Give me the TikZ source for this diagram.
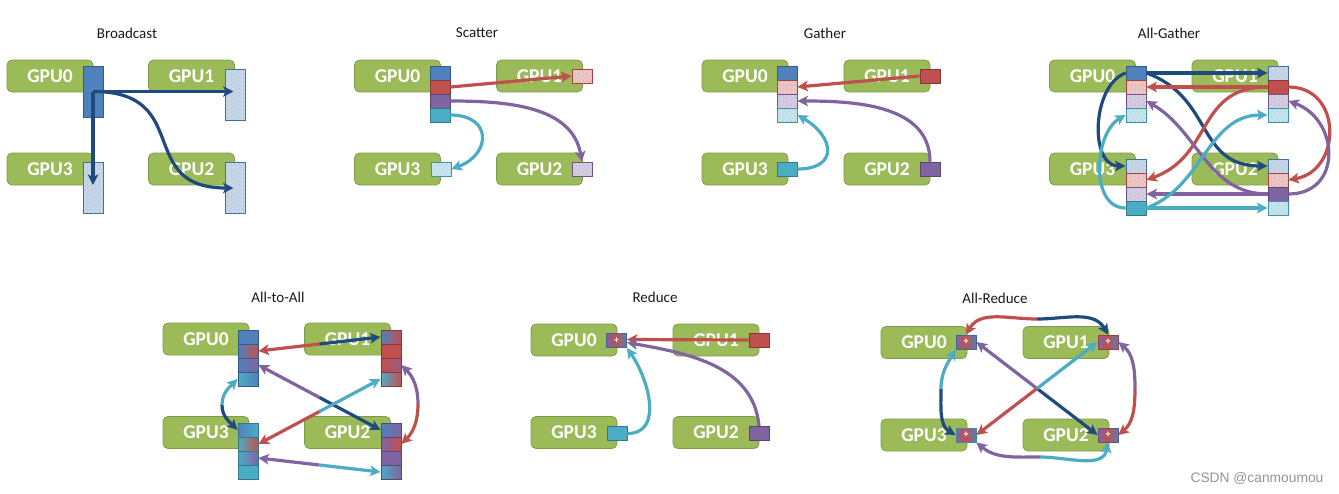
\documentclass[tikz,border=0pt]{standalone}
\usepackage{fontspec}
\setmainfont{Carlito}
\newfontfamily\wmfont{Liberation Sans}
\usetikzlibrary{arrows.meta,patterns.meta,calc}

\definecolor{gpugreen}{HTML}{9BBB59}
\definecolor{gpuedge}{HTML}{7E9C45}
\definecolor{cblue}{HTML}{4F81BD}
\definecolor{cred}{HTML}{C0504D}
\definecolor{cpurple}{HTML}{8064A2}
\definecolor{ccyan}{HTML}{4BACC6}
\definecolor{cnavy}{HTML}{1F4A7E}
\definecolor{lblue}{HTML}{B9CDE5}
\definecolor{lred}{HTML}{E6B9B8}
\definecolor{lpurple}{HTML}{CCC1DA}
\definecolor{lcyan}{HTML}{B7DEE8}

\tikzdeclarepattern{
	name=checks,
	type=uncolored,
	bottom left={(0pt,0pt)},
	top right={(4pt,4pt)},
	tile size={(4pt,4pt)},
	code={
		\fill (0pt,0pt) rectangle (2pt,2pt);
		\fill (2pt,2pt) rectangle (4pt,4pt);
	}
}

\tikzset{
	gpu/.style={draw=gpuedge, fill=gpugreen, line width=0.8pt, rounded corners=5pt, minimum width=86pt, minimum height=32pt, inner sep=0pt, text=white, font=\fontsize{19.5}{19.5}\selectfont\bfseries},
	title/.style={font=\fontsize{15}{15}\selectfont, text=black!90},
	cell/.style={draw=#1!70!black, fill=#1, line width=0.8pt, minimum width=20pt, minimum height=14pt, inner sep=0pt},
	lcell/.style 2 args={cell=#2, fill=#1, postaction={fill opacity=.4, pattern=checks, pattern color=white}, postaction={draw=#2!85!black, line width=0.8pt}},
	mixcell/.style n args={3}{cell=#1, left color=#2, right color=#3},
	tall/.style={minimum height=51pt},
	plusbox/.style={draw=#1!80!black, line width=0.8pt, left color=cpurple, right color=cblue, middle color=cred, minimum width=20pt, minimum height=14pt, inner sep=0pt, text=white, font=\fontsize{10}{10}\selectfont\bfseries},
	arr/.style={draw=#1, line width=3.2pt, -{Stealth[length=10.5pt,width=10.5pt,inset=2.5pt]}},
	wm/.style={font=\wmfont\fontsize{13.8}{13.8}\selectfont, text=black!42}
}

\begin{document}
\begin{tikzpicture}[x=1pt,y=-1pt]

	\path[use as bounding box, fill=white] (0,0) rectangle (1339,493);

	\node[title] (tbc) at (127,33) {Broadcast};
	\node[title] (tsc) at (477,33) {Scatter};
	\node[title] (tga) at (825,33) {Gather};
	\node[title] (tag) at (1169,33) {All-Gather};
	\node[title] (taa) at (278,297) {All-to-All};
	\node[title] (trd) at (655,297) {Reduce};
	\node[title] (tar) at (995,298) {All-Reduce};

	\node[gpu] (bcg0) at (50,76) {GPU0};
	\node[gpu] (bcg1) at (191.5,76) {GPU1};
	\node[gpu] (bcg3) at (50,169) {GPU3};
	\node[gpu] (bcg2) at (191.5,169) {GPU2};
	\node[cell=cblue, tall] (bcb0) at (93,91.5) {};
	\node[lcell={lblue}{cblue}, tall] (bcb1) at (235.5,94.5) {};
	\node[lcell={lblue}{cblue}, tall] (bcb3) at (93,188) {};
	\node[lcell={lblue}{cblue}, tall] (bcb2) at (235.5,188) {};
	\draw[arr=cnavy, shorten >=2pt] (bcb0.center) -- (bcb0.center -| bcb1.center);
	\draw[arr=cnavy, shorten >=3pt] (bcb0.center) -- (bcb0.center |- bcb3.center);
	\draw[arr=cnavy, shorten >=2pt] (bcb0.center) to[out=0,in=180,looseness=1.5] (bcb2.center);

	\node[gpu] (scg0) at (397.5,76) {GPU0};
	\node[gpu] (scg1) at (539.5,76) {GPU1};
	\node[gpu] (scg3) at (397.5,169) {GPU3};
	\node[gpu] (scg2) at (539.5,169) {GPU2};
	\node[cell=cblue] (scc0) at (440,73) {};
	\node[cell=cred] (scc1) at (440,87) {};
	\node[cell=cpurple] (scc2) at (440,101) {};
	\node[cell=ccyan] (scc3) at (440,115) {};
	\node[lcell={lred}{cred}] (scr1) at (582,76) {};
	\node[lcell={lcyan}{ccyan}] (scr3) at (441,169) {};
	\node[lcell={lpurple}{cpurple}] (scr2) at (582,169) {};
	\draw[arr=cred] (scc1.east) -- (scr1.west);
	\draw[arr=cpurple] (scc2.east) to[out=0,in=100] (scr2.north);
	\draw[arr=ccyan] (scc3.east) to[out=0,in=20,looseness=2] (scr3.east);

	\node[gpu] (gag0) at (745,76) {GPU0};
	\node[gpu] (gag1) at (887,76) {GPU1};
	\node[gpu] (gag3) at (745,169) {GPU3};
	\node[gpu] (gag2) at (887,169) {GPU2};
	\node[cell=cblue] (gac0) at (787,73) {};
	\node[lcell={lred}{cred}] (gac1) at (787,87) {};
	\node[lcell={lpurple}{cpurple}] (gac2) at (787,101) {};
	\node[lcell={lcyan}{ccyan}] (gac3) at (787,115) {};
	\node[cell=cred] (gas1) at (930,76) {};
	\node[cell=ccyan] (gas3) at (787,169) {};
	\node[cell=cpurple] (gas2) at (930,169) {};
	\draw[arr=cred] (gas1.west) -- (gac1.east);
	\draw[arr=cpurple] (gas2.north) to[out=90,in=0] (gac2.east);
	\draw[arr=ccyan] (gas3.east) to[out=0,in=-30,looseness=2] (gac3.east);

	\node[gpu] (agg0) at (1092.5,76) {GPU0};
	\node[gpu] (agg1) at (1235,76) {GPU1};
	\node[gpu] (agg3) at (1092.5,169) {GPU3};
	\node[gpu] (agg2) at (1235,169) {GPU2};
	\node[cell=cblue] (agc00) at (1136,73) {};
	\node[lcell={lred}{cred}] (agc01) at (1136,87) {};
	\node[lcell={lpurple}{cpurple}] (agc02) at (1136,101) {};
	\node[lcell={lcyan}{ccyan}] (agc03) at (1136,115) {};
	\node[lcell={lblue}{cblue}] (agc10) at (1278,73) {};
	\node[cell=cred] (agc11) at (1278,87) {};
	\node[lcell={lpurple}{cpurple}] (agc12) at (1278,101) {};
	\node[lcell={lcyan}{ccyan}] (agc13) at (1278,115) {};
	\node[lcell={lblue}{cblue}] (agc30) at (1136,166) {};
	\node[lcell={lred}{cred}] (agc31) at (1136,180) {};
	\node[lcell={lpurple}{cpurple}] (agc32) at (1136,194) {};
	\node[cell=ccyan] (agc33) at (1136,208) {};
	\node[lcell={lblue}{cblue}] (agc20) at (1278,166) {};
	\node[lcell={lred}{cred}] (agc21) at (1278,180) {};
	\node[cell=cpurple] (agc22) at (1278,194) {};
	\node[lcell={lcyan}{ccyan}] (agc23) at (1278,208) {};
	\draw[arr=cnavy] (agc00.east) -- (agc10.west);
	\draw[arr=cnavy] (agc00.west) to[out=200,in=180] (agc30.west);
	\draw[arr=cnavy] (agc00.east) to[out=-20,in=180,looseness=1.2] (agc20.west);
	\draw[arr=cred] (agc11.west) -- (agc01.east);
	\draw[arr=cred] (agc11.west) to[out=180,in=20,looseness=1.2] (agc31.east);
	\draw[arr=cred] (agc11.east) to[out=0,in=10,looseness=1.5] (agc21.east);
	\draw[arr=cpurple] (agc22.west) -- (agc32.east);
	\draw[arr=cpurple] (agc22.east) to[out=0,in=-20,looseness=1.5] (agc12.east);
	\draw[arr=cpurple] (agc22.west) to[out=180,in=-30] (agc02.east);
	\draw[arr=ccyan] (agc33.east) -- (agc23.west);
	\draw[arr=ccyan] (agc33.west) to[out=180,in=210] (agc03.west);
	\draw[arr=ccyan] (agc33.east) to[out=20,in=180] (agc13.west);

	\node[gpu] (aag0) at (206,339) {GPU0};
	\node[gpu] (aag1) at (347.5,339) {GPU1};
	\node[gpu] (aag3) at (206,432.5) {GPU3};
	\node[gpu] (aag2) at (347.5,432.5) {GPU2};
	\node[cell=cblue] (aac00) at (248,337) {};
	\node[mixcell={cblue}{cblue}{cred}] (aac01) at (248,351) {};
	\node[mixcell={cblue}{cblue}{cpurple}] (aac02) at (248,365) {};
	\node[mixcell={cblue}{ccyan}{cblue}] (aac03) at (248,379) {};
	\node[mixcell={cred}{cblue}{cred}] (aac10) at (391,337) {};
	\node[cell=cred] (aac11) at (391,351) {};
	\node[mixcell={cred}{cred}{cpurple!60!cred}] (aac12) at (391,365) {};
	\node[mixcell={cred}{ccyan}{cred}] (aac13) at (391,379) {};
	\node[mixcell={ccyan}{cblue}{ccyan}] (aac30) at (248,430) {};
	\node[mixcell={ccyan}{ccyan}{cred}] (aac31) at (248,444) {};
	\node[mixcell={ccyan}{ccyan}{cpurple}] (aac32) at (248,458) {};
	\node[cell=ccyan] (aac33) at (248,472) {};
	\node[mixcell={cpurple}{cblue}{cpurple}] (aac20) at (391,430) {};
	\node[mixcell={cpurple}{cpurple}{cred}] (aac21) at (391,444) {};
	\node[cell=cpurple] (aac22) at (391,458) {};
	\node[mixcell={cpurple}{ccyan}{cpurple}] (aac23) at (391,472) {};
	\coordinate (aam1) at ($(aac01.east)!.5!(aac10.west)$);
	\coordinate (aam2) at ($(aac02.east)!.5!(aac20.west)$);
	\coordinate (aam3) at ($(aac13.west)!.5!(aac31.east)$);
	\coordinate (aam4) at ($(aac32.east)!.5!(aac23.west)$);
	\coordinate (aam5) at (222,405);
	\coordinate (aam6) at (418,404);
	\draw[arr=cred] (aam1) -- (aac01.east);
	\draw[arr=cnavy] (aam1) -- (aac10.west);
	\draw[arr=cpurple] (aam2) -- (aac02.east);
	\draw[arr=cnavy] (aam2) -- (aac20.west);
	\draw[arr=ccyan] (aam3) -- (aac13.west);
	\draw[arr=cred] (aam3) -- (aac31.east);
	\draw[arr=cpurple] (aam4) -- (aac32.east);
	\draw[arr=ccyan] (aam4) -- (aac23.west);
	\draw[arr=ccyan] (aam5) to[out=90,in=225] (aac03.west);
	\draw[arr=cnavy] (aam5) to[out=-90,in=135] (aac30.west);
	\draw[arr=cpurple] (aam6) to[out=90,in=-45] (aac12.east);
	\draw[arr=cred] (aam6) to[out=-90,in=45] (aac21.east);

	\node[gpu] (rdg0) at (574,340) {GPU0};
	\node[gpu] (rdg1) at (716,340) {GPU1};
	\node[gpu] (rdg3) at (574,432.5) {GPU3};
	\node[gpu] (rdg2) at (716,432.5) {GPU2};
	\node[plusbox=cblue] (rdp0) at (616.5,340.5) {+};
	\node[cell=cred] (rds1) at (759,340) {};
	\node[cell=ccyan] (rds3) at (617,433.5) {};
	\node[cell=cpurple] (rds2) at (759,433.5) {};
	\draw[arr=cred] (rds1.west) -- ([yshift=1pt]rdp0.east);
	\draw[arr=cpurple] (rds2.north) to[out=95,in=-10] ([yshift=-2pt]rdp0.east);
	\draw[arr=ccyan] (rds3.east) to[out=0,in=-55,looseness=1.1] (rdp0.south east);

	\node[gpu] (arg0) at (924,342.5) {GPU0};
	\node[gpu] (arg1) at (1066,342.5) {GPU1};
	\node[gpu] (arg3) at (924,435) {GPU3};
	\node[gpu] (arg2) at (1066,435) {GPU2};
	\node[plusbox=cblue] (arp0) at (966,342) {+};
	\node[plusbox=cred] (arp1) at (1108,342) {+};
	\node[plusbox=ccyan] (arp3) at (966,435) {+};
	\node[plusbox=cpurple] (arp2) at (1108,435) {+};
	\coordinate (arm1) at (1037,319);
	\coordinate (arm2) at ($(arp0.east)!.5!(arp2.west)$);
	\coordinate (arm3) at ($(arp1.west)!.5!(arp3.east)$);
	\coordinate (arm4) at (941,389);
	\coordinate (arm5) at (1135,389);
	\coordinate (arm6) at (1040,457);
	\draw[arr=cred] (arm1) to[out=180,in=60] (arp0.north);
	\draw[arr=cnavy] (arm1) to[out=0,in=120] (arp1.north);
	\draw[arr=cpurple] (arm2) -- (arp0.east);
	\draw[arr=cnavy] (arm2) -- (arp2.west);
	\draw[arr=ccyan] (arm3) -- (arp1.west);
	\draw[arr=cred] (arm3) -- (arp3.east);
	\draw[arr=ccyan] (arm4) to[out=90,in=240] (arp0.south west);
	\draw[arr=cnavy] (arm4) to[out=-90,in=150] (arp3.west);
	\draw[arr=cpurple] (arm5) to[out=90,in=-40] (arp1.east);
	\draw[arr=cred] (arm5) to[out=-90,in=40] (arp2.east);
	\draw[arr=cpurple] (arm6) to[out=180,in=-40] (arp3.south east);
	\draw[arr=ccyan] (arm6) to[out=0,in=-100] (arp2.south);

	\node[wm] (wm) at (1257,478) {CSDN @canmoumou};

\end{tikzpicture}
\end{document}
